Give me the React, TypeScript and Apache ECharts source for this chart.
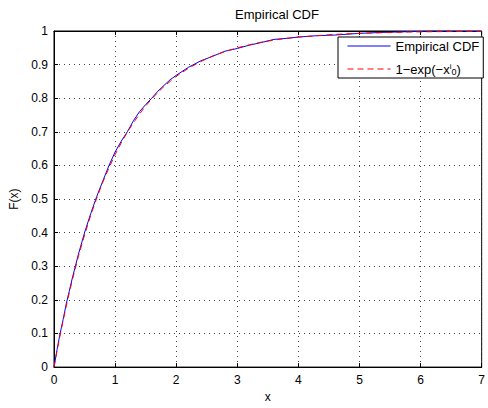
import React, { useEffect, useRef } from "react";
import * as echarts from "echarts";

const xTickMin = 0;
const xTickMax = 7;
const yTickMin = 0;
const yTickMax = 1;

const sampleX = [0, 0.05, 0.1, 0.15, 0.2, 0.25, 0.3, 0.4, 0.5, 0.6, 0.7, 0.8, 0.9, 1.0, 1.1, 1.2, 1.3, 1.4, 1.5, 1.6, 1.7, 1.8, 1.9, 2.0, 2.2, 2.4, 2.6, 2.8, 3.0, 3.2, 3.4, 3.6, 3.8, 4.0, 4.3, 4.6, 5.0, 5.4, 5.8, 6.2, 7.0];
const empiricalF = [0, 0.052, 0.1, 0.142, 0.188, 0.226, 0.265, 0.336, 0.4, 0.456, 0.508, 0.554, 0.6, 0.64, 0.672, 0.7, 0.733, 0.76, 0.781, 0.8, 0.821, 0.838, 0.855, 0.868, 0.892, 0.911, 0.925, 0.94, 0.948, 0.958, 0.966, 0.975, 0.978, 0.982, 0.986, 0.988, 0.993, 0.996, 0.998, 1.0, 1.0];
const modelF = [0, 0.049, 0.095, 0.139, 0.181, 0.221, 0.259, 0.33, 0.393, 0.451, 0.503, 0.551, 0.593, 0.632, 0.667, 0.699, 0.727, 0.753, 0.777, 0.798, 0.817, 0.835, 0.85, 0.865, 0.889, 0.909, 0.926, 0.939, 0.95, 0.959, 0.967, 0.973, 0.978, 0.982, 0.986, 0.99, 0.993, 0.995, 0.997, 0.998, 0.999];

const seriesNames = ["Empirical CDF", "1−exp(−x/λ0)"];

const FONT = "Liberation Sans, Arial, Helvetica, sans-serif";

export default function App() {
  const ref = useRef<HTMLDivElement>(null);
  useEffect(() => {
    document.documentElement.style.overflow = "hidden";
    document.body.style.margin = "0";
    document.body.style.overflow = "hidden";
    const chart = echarts.init(ref.current!, null, { renderer: "svg", width: 488, height: 408 });
    const gridLine = { show: true, lineStyle: { color: "#444", width: 1, type: [1, 4] as any } };
    chart.setOption({
      animation: false,
      backgroundColor: "#fff",
      textStyle: { fontFamily: FONT },
      title: {
        text: "Empirical CDF",
        left: 272,
        textAlign: "center",
        top: 3,
        textStyle: { fontSize: 13, fontWeight: "normal", color: "#000", fontFamily: FONT },
      },
      grid: {
        left: 54,
        right: 0,
        top: 31,
        bottom: 36,
        show: true,
        borderColor: "#000",
        borderWidth: 1,
        backgroundColor: "#fff",
      },
      legend: {
        left: 338,
        top: 37,
        orient: "vertical",
        itemWidth: 43,
        itemHeight: 14,
        itemGap: 9,
        padding: [2, 4, 2, 9],
        borderColor: "#000",
        borderWidth: 1,
        borderRadius: 0,
        backgroundColor: "#fff",
        data: seriesNames,
        itemStyle: { opacity: 0 },
        lineStyle: { width: 1 },
        formatter: (name: string) =>
          name === seriesNames[0] ? name : "1−exp(−x{sup|i}{sub|0})",
        textStyle: {
          fontSize: 13,
          color: "#000",
          fontFamily: FONT,
          lineHeight: 14,
          rich: {
            sup: { fontSize: 8, verticalAlign: "top", lineHeight: 14, fontFamily: FONT, color: "#000", padding: [0, 0, 5, 0] },
            sub: { fontSize: 9, verticalAlign: "bottom", lineHeight: 14, fontFamily: FONT, color: "#000", padding: [3, 0, 0, 0] },
          },
        },
      },
      xAxis: [
        {
          type: "value",
          min: xTickMin,
          max: xTickMax,
          interval: 1,
          name: "x",
          nameLocation: "middle",
          nameGap: 23,
          nameTextStyle: { fontSize: 12, color: "#000", fontFamily: FONT },
          axisLine: { show: true, onZero: false, lineStyle: { color: "#000", width: 1 } },
          axisTick: { show: true, inside: true, length: 4, lineStyle: { color: "#000" } },
          axisLabel: { fontSize: 12, color: "#000", margin: 7, fontFamily: FONT },
          splitLine: gridLine,
        },
        {
          type: "value",
          position: "top",
          min: xTickMin,
          max: xTickMax,
          interval: 1,
          axisLine: { show: true, onZero: false, lineStyle: { color: "#000", width: 1 } },
          axisTick: { show: true, inside: true, length: 4, lineStyle: { color: "#000" } },
          axisLabel: { show: false },
          splitLine: { show: false },
        },
      ],
      yAxis: [
        {
          type: "value",
          min: yTickMin,
          max: yTickMax,
          interval: 0.1,
          name: "F(x)",
          nameLocation: "middle",
          nameGap: 34,
          nameTextStyle: { fontSize: 12, color: "#000", fontFamily: FONT },
          axisLine: { show: true, onZero: false, lineStyle: { color: "#000", width: 1 } },
          axisTick: { show: true, inside: true, length: 4, lineStyle: { color: "#000" } },
          axisLabel: { fontSize: 12, color: "#000", margin: 6, fontFamily: FONT },
          splitLine: gridLine,
        },
      ],
      series: [
        {
          name: seriesNames[0],
          type: "line",
          data: sampleX.map((x, i) => [x, empiricalF[i]]),
          showSymbol: false,
          symbol: "none",
          lineStyle: { color: "#0000ff", width: 1 },
          itemStyle: { color: "#0000ff" },
          z: 2,
        },
        {
          name: seriesNames[1],
          type: "line",
          data: sampleX.map((x, i) => [x, modelF[i]]),
          showSymbol: false,
          symbol: "none",
          lineStyle: { color: "#ff0000", width: 1, type: [6, 4] },
          itemStyle: { color: "#ff0000" },
          z: 3,
        },
      ],
    });
    return () => chart.dispose();
  }, []);
  return (
    <div
      ref={ref}
      style={{ position: "fixed", left: 0, top: 0, width: 488, height: 408, background: "#fff", overflow: "hidden" }}
    />
  );
}
